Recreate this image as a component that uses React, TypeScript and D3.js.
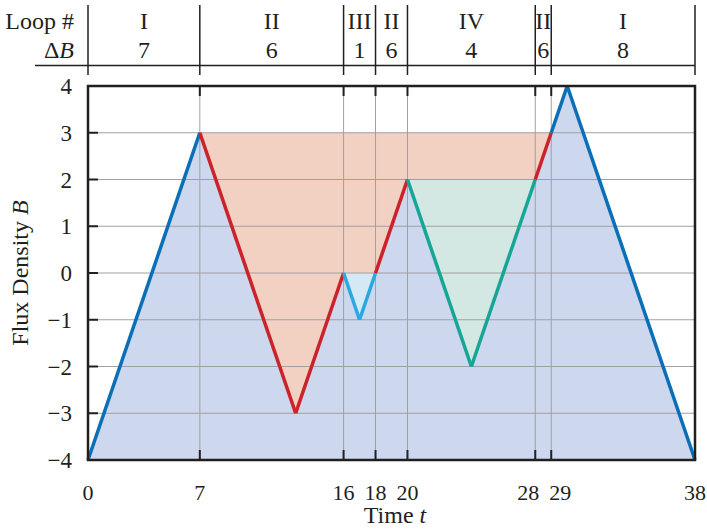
import React from "react";
import * as d3 from "d3";

const times = [0, 7, 13, 16, 17, 18, 20, 24, 28, 29, 30, 38];
const flux = [-4, 3, -3, 0, -1, 0, 2, -2, 2, 3, 4, -4];
const segLoop = ["I", "II", "II", "III", "III", "II", "IV", "IV", "II", "I", "I"];
const loopBounds = [0, 7, 16, 18, 20, 28, 29, 38];
const loopLabels = ["I", "II", "III", "II", "IV", "II", "I"];
const deltaB = ["7", "6", "1", "6", "4", "6", "8"];
const xTicks = [0, 7, 16, 18, 20, 28, 29, 38];
const yTicks = [-4, -3, -2, -1, 0, 1, 2, 3, 4];

const lineColor: Record<string, string> = {
  I: "#0b6fb8",
  II: "#cc2229",
  III: "#2aa9e0",
  IV: "#17a596",
};

const W = 707, H = 530;
const L = 88, R = 695, T = 86, B = 460;
const FONT = "'Liberation Serif', 'Times New Roman', Times, serif";

// small label nudges so close ticks don't collide
const xLabelShift: Record<number, number> = { 28: -7, 29: 9 };

export default function App() {
  const x = d3.scaleLinear().domain([0, 38]).range([L, R]);
  const y = d3.scaleLinear().domain([-4, 4]).range([B, T]);
  const pts: [number, number][] = times.map((t, i) => [t, flux[i]]);
  const line = d3.line<[number, number]>().x(d => x(d[0])).y(d => y(d[1]));

  const idx = (t: number) => times.indexOf(t);
  const slicePts = (a: number, b: number) => pts.slice(idx(a), idx(b) + 1);

  const bluePoly = [...pts, [38, -4], [0, -4]] as [number, number][];
  const salmonPoly = [
    ...slicePts(7, 16),
    ...slicePts(18, 20),
    ...slicePts(28, 29),
  ] as [number, number][];
  const cyanPoly = slicePts(16, 18);
  const tealPoly = slicePts(20, 28);
  const poly = (p: [number, number][]) => line(p) + "Z";

  const segs = segLoop.map((lp, i) => ({ lp, p: [pts[i], pts[i + 1]] as [number, number][] }));
  const innerX = xTicks.filter(t => t > 0 && t < 38);

  return (
    <svg width={W} height={H} style={{ display: "block", position: "absolute", left: 0, top: 0, fontFamily: FONT }}>
      <path d={poly(bluePoly)} fill="#cdd7ee" />
      <path d={poly(salmonPoly)} fill="#f2d1c3" />
      <path d={poly(cyanPoly)} fill="#d5e8f6" />
      <path d={poly(tealPoly)} fill="#d3e8e3" />
      {yTicks.filter(v => v > -4 && v < 4).map(v => (
        <line key={"h" + v} x1={L} x2={R} y1={y(v)} y2={y(v)} stroke="#a0a0a0" strokeWidth={1} />
      ))}
      {innerX.map(t => (
        <line key={"v" + t} x1={x(t)} x2={x(t)} y1={T} y2={B} stroke="#a0a0a0" strokeWidth={1} />
      ))}
      {segs.map((s, i) => (
        <path key={"s" + i} d={line(s.p) || ""} fill="none" stroke={lineColor[s.lp]} strokeWidth={3.5} strokeLinejoin="miter" strokeLinecap="butt" />
      ))}
      <rect x={L} y={T} width={R - L} height={B - T} fill="none" stroke="#231f20" strokeWidth={2.5} />
      {innerX.map(t => (
        <g key={"tk" + t}>
          <line x1={x(t)} x2={x(t)} y1={T} y2={T + 10} stroke="#231f20" strokeWidth={2} />
          <line x1={x(t)} x2={x(t)} y1={B} y2={B - 10} stroke="#231f20" strokeWidth={2} />
        </g>
      ))}
      {yTicks.filter(v => v > -4 && v < 4).map(v => (
        <line key={"yt" + v} x1={L} x2={L + 10} y1={y(v)} y2={y(v)} stroke="#231f20" strokeWidth={2} />
      ))}
      {xTicks.map(t => (
        <text key={"xl" + t} x={x(t) + (xLabelShift[t] || 0)} y={500} textAnchor="middle" fontSize={22} fill="#231f20">{t}</text>
      ))}
      {yTicks.map(v => (
        <text key={"yl" + v} x={72} y={y(v) + 8} textAnchor="end" fontSize={23} fill="#231f20">{v < 0 ? "\u2212" + Math.abs(v) : v}</text>
      ))}
      <text x={395} y={523} textAnchor="middle" fontSize={24} fill="#231f20">Time <tspan fontStyle="italic">t</tspan></text>
      <text transform={`translate(28,${(T + B) / 2}) rotate(-90)`} textAnchor="middle" fontSize={24} fill="#231f20">Flux Density <tspan fontStyle="italic">B</tspan></text>
      {/* header */}
      <line x1={35} x2={R} y1={65.5} y2={65.5} stroke="#231f20" strokeWidth={1.5} />
      {loopBounds.map(t => (
        <line key={"hb" + t} x1={x(t)} x2={x(t)} y1={5} y2={75} stroke="#231f20" strokeWidth={1.5} />
      ))}
      <text x={74} y={29} textAnchor="end" fontSize={24} fill="#231f20">Loop #</text>
      <text x={74} y={58} textAnchor="end" fontSize={24} fill="#231f20">Δ<tspan fontStyle="italic">B</tspan></text>
      {loopLabels.map((lb, i) => {
        const cx = (x(loopBounds[i]) + x(loopBounds[i + 1])) / 2;
        return (
          <g key={"ll" + i}>
            <text x={cx} y={29} textAnchor="middle" fontSize={24} fill="#231f20">{lb}</text>
            <text x={cx} y={58} textAnchor="middle" fontSize={24} fill="#231f20">{deltaB[i]}</text>
          </g>
        );
      })}
    </svg>
  );
}
